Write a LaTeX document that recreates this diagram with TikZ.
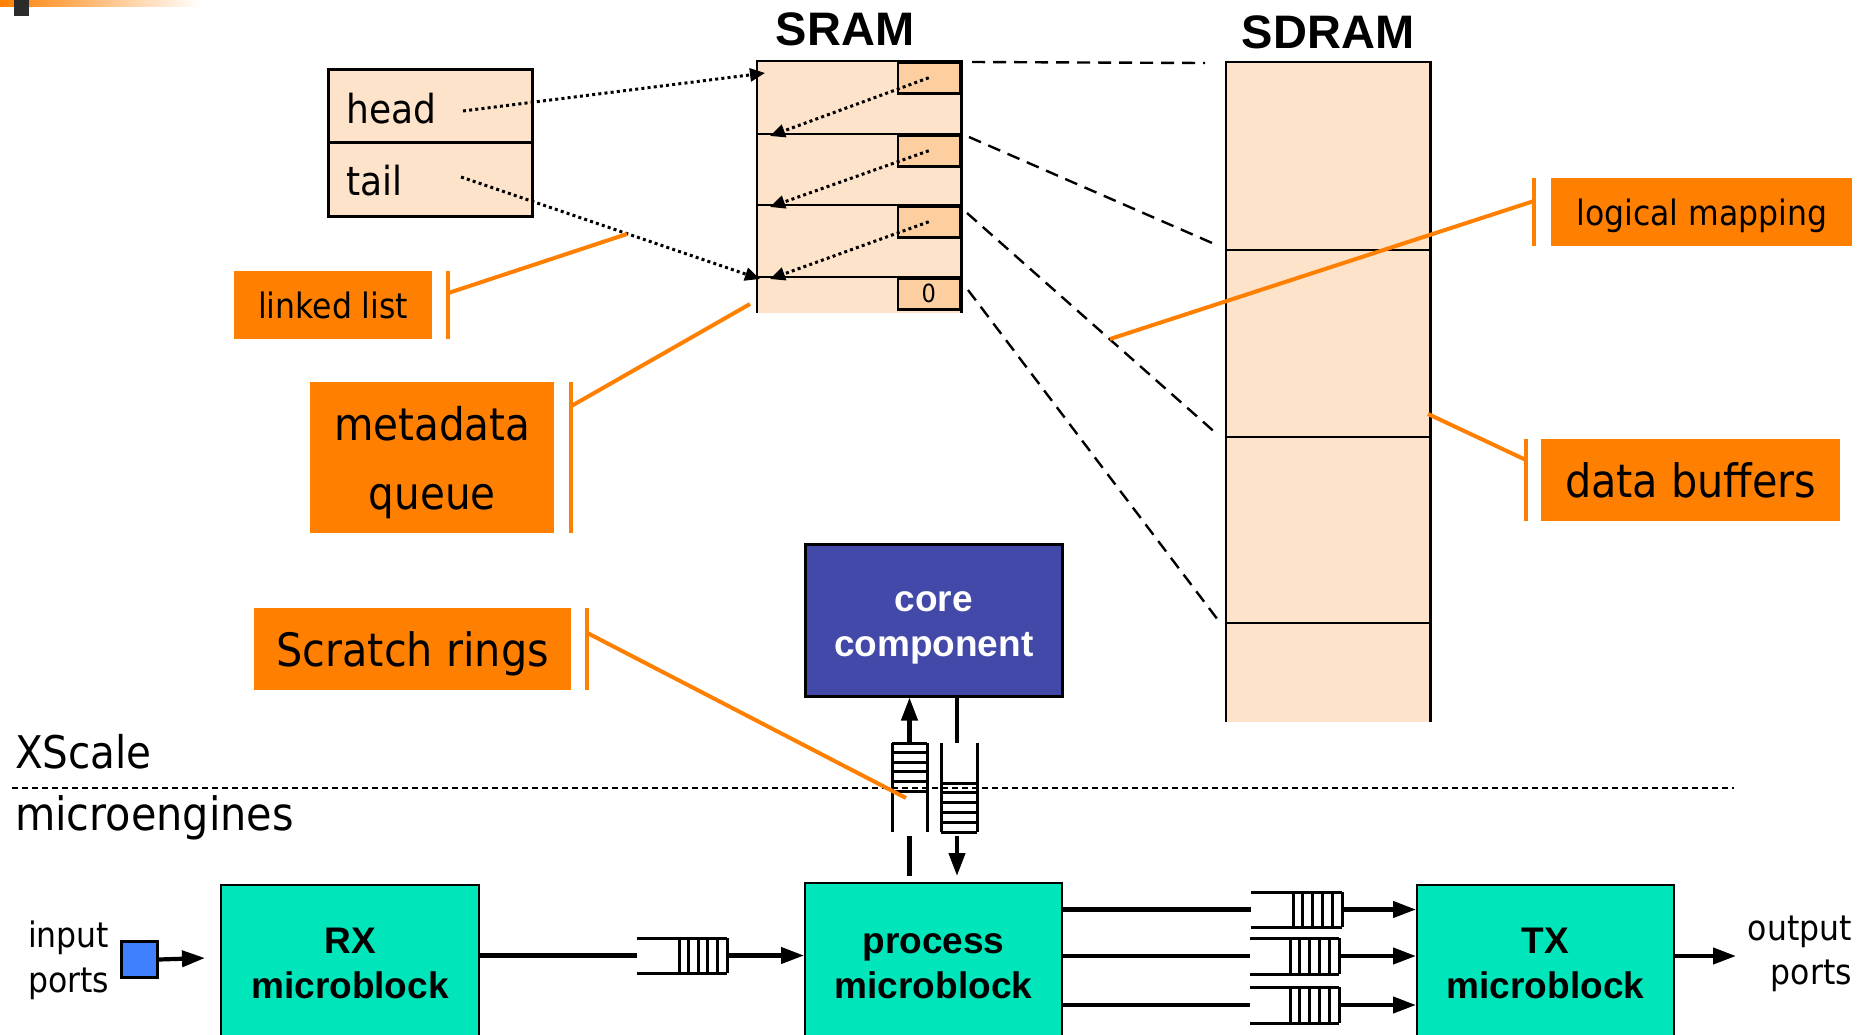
\documentclass[tikz,border=0pt]{standalone}
\usepackage{fontspec}
\setmainfont{DejaVu Sans Condensed}
\newfontfamily\boldsans{Liberation Sans}
\usetikzlibrary{arrows.meta,calc}

\definecolor{peach}{HTML}{FDE3C9}
\definecolor{peachdark}{HTML}{FDCFA0}
\definecolor{callout}{HTML}{FF7F00}
\definecolor{coreblue}{HTML}{4349A9}
\definecolor{mgreen}{HTML}{00E5B9}
\definecolor{portblue}{HTML}{4080FF}

\newcommand\fsz[2]{\fontsize{#1}{#2}\selectfont}

% horizontal ring buffer: open x, first slot x, closed end x, top y, bottom y
\newcommand\HQueue[5]{%
  \draw[ring] (#1,#4) -- (#3,#4) (#1,#5) -- (#3,#5);
  \foreach \k in {0,...,5} \draw[ring] ({#2+\k*(#3-#2)/5},#4) -- ({#2+\k*(#3-#2)/5},#5);
}
% vertical ring buffer: left x, right x, side top, side bottom, first slot y, last slot y
\newcommand\VQueue[6]{%
  \draw[ring] (#1,#3) -- (#1,#4) (#2,#3) -- (#2,#4);
  \foreach \k in {0,...,5} \draw[ring] (#1,{#5+\k*(#6-#5)/5}) -- (#2,{#5+\k*(#6-#5)/5});
}

\tikzset{
  memfill/.style={fill=peach, inner sep=0pt, anchor=north west},
  memline/.style={line width=2.5pt},
  ptrbox/.style={draw, line width=2.5pt, fill=peachdark, inner sep=0pt, anchor=north east,
    minimum width=62pt, minimum height=31pt},
  ptr/.style={line width=3pt, dash pattern=on 3pt off 3.2pt, -{Triangle[length=15pt,width=13pt]}},
  mapline/.style={line width=2.4pt, dash pattern=on 13pt off 8pt},
  tag/.style={fill=callout, inner sep=0pt, anchor=north west, text depth=0pt, align=center},
  tagbar/.style={draw=callout, line width=4pt},
  blk/.style={draw, line width=2pt, fill=mgreen, inner sep=0pt, anchor=north west, align=center,
    font=\boldsans\bfseries\fsz{37}{45}, text height=71.5pt, text depth=0pt},
  conn/.style={line width=4.2pt},
  arr/.style={conn, -{Triangle[length=23pt,width=16pt]}},
  ring/.style={line width=3pt},
  divider/.style={line width=1.8pt, dash pattern=on 6pt off 4pt},
  plain/.style={inner sep=0pt},
}

\begin{document}
\begin{tikzpicture}[x=1pt,y=-1pt]
\clip (0,0) rectangle (1872,1034);

% slide accent in the corner
\shade[left color=callout, right color=white] (0,0) rectangle (200,6);
\fill[black!83] (14,0) rectangle (29,16);

% head / tail registers
\node[memfill, draw, line width=2.5pt, minimum width=204pt, minimum height=73pt] (head) at (327,68) {};
\node[memfill, draw, line width=2.5pt, minimum width=204pt, minimum height=74pt] (tail) at (327,141) {};
\node[plain, anchor=base west, font=\fsz{40}{48}] (headtxt) at (346,123) {head};
\node[plain, anchor=base west, font=\fsz{40}{48}] (tailtxt) at (346,195) {tail};

% SRAM queue descriptors
\node[memfill, minimum width=204pt, minimum height=252pt] (sram) at (757,61) {};
\draw[memline] (sram.south west) -- (sram.north west) -- (sram.north east) -- (sram.south east);
\foreach \y in {134,205,277} \draw[memline] (757,\y) -- (961,\y);
\node[ptrbox] (p1) at (961,61) {};
\node[ptrbox] (p2) at (961,134) {};
\node[ptrbox] (p3) at (961,205) {};
\node[ptrbox, font=\fsz{25}{30}] (p4) at (961,277) {0};
\node[plain, anchor=base, font=\boldsans\bfseries\fsz{47}{56}] (sramlbl) at (845,45) {SRAM};

% SDRAM buffers
\node[memfill, minimum width=204pt, minimum height=660pt] (sdram) at (1226,62) {};
\draw[memline] (sdram.south west) -- (sdram.north west) -- (sdram.north east) -- (sdram.south east);
\foreach \y in {250,437,623} \draw[memline] (1226,\y) -- (1430,\y);
\node[plain, anchor=base, font=\boldsans\bfseries\fsz{47}{56}] (sdramlbl) at (1328,48) {SDRAM};

% linked-list pointers
\coordinate (hp) at (463,111);
\coordinate (tp) at (461,177);
\coordinate (e1) at (765,73);
\coordinate (e2) at (770,136);
\coordinate (e3) at (770,207);
\coordinate (e4) at (770,279);
\coordinate (e4t) at (760,279);
\draw[ptr] (hp) -- (e1);
\draw[ptr] (tp) -- (e4t);
\draw[ptr] (p1.center) -- (e2);
\draw[ptr] (p2.center) -- (e3);
\draw[ptr] (p3.center) -- (e4);

% mapping of descriptors onto buffers
\coordinate (m1a) at (972,62);   \coordinate (m1b) at (1205,63);
\coordinate (m2a) at (969,137);  \coordinate (m2b) at (1219,246);
\coordinate (m3a) at (967,213);  \coordinate (m3b) at (1218,435);
\coordinate (m4a) at (968,290);  \coordinate (m4b) at (1218,620);
\draw[mapline] (m1a) -- (m1b);
\draw[mapline] (m2a) -- (m2b);
\draw[mapline] (m3a) -- (m3b);
\draw[mapline] (m4a) -- (m4b);

% core component and the XScale / microengine boundary
\node[draw, line width=2.5pt, fill=coreblue, text=white, inner sep=0pt, anchor=north west,
  minimum width=257pt, minimum height=152pt, align=center,
  font=\boldsans\bfseries\fsz{37}{45}, text height=71.5pt, text depth=0pt] (core) at (804,543) {core\\component};

\coordinate (dl) at (12,788);
\coordinate (dr) at (1734,788);
\draw[divider] (dl) -- (dr);
\node[plain, anchor=base west, font=\fsz{45}{54}] (xscale) at (15,768) {XScale};
\node[plain, anchor=base west, font=\fsz{46}{54}] (micro) at (15,830) {microengines};

% microblocks
\node[blk, minimum width=258pt, minimum height=156pt] (rx) at (220,884) {RX\\microblock};
\node[blk, minimum width=257pt, minimum height=160pt] (proc) at (804,882) {process\\microblock};
\node[blk, minimum width=257pt, minimum height=156pt] (tx) at (1416,884) {TX\\microblock};

% ports
\node[draw, line width=3pt, fill=portblue, minimum size=36pt, inner sep=0pt, anchor=north west] (port) at (120,940) {};
\node[plain, anchor=west, align=left, font=\fsz{35}{45}, text height=72pt, text depth=0pt] (inlbl) at (28,956) {input\\ports};
\node[plain, anchor=east, align=right, font=\fsz{35}{44}, text height=71pt, text depth=0pt] (outlbl) at (1852,949) {output\\ports};
\coordinate (rxin) at (205,958);
\draw[arr] (port.east) -- (rxin);
\coordinate (outp) at (1736,956);
\draw[arr] (tx.east |- outp) -- (outp);

% scratch rings between microblocks
\HQueue{637}{679}{727}{938}{973}
\coordinate (q0in) at (637,955.5);  \coordinate (q0out) at (727,955.5);
\draw[conn] (rx.east |- q0in) -- (q0in);
\draw[arr] (q0out) -- (q0out -| proc.west);

\HQueue{1251}{1293}{1342}{892}{927}
\coordinate (qain) at (1251,909.5);  \coordinate (qaout) at (1342,909.5);
\draw[conn] (proc.east |- qain) -- (qain);
\draw[arr] (qaout) -- (qaout -| tx.west);

\HQueue{1250}{1290}{1339}{938}{974}
\coordinate (qbin) at (1250,956);  \coordinate (qbout) at (1339,956);
\draw[conn] (proc.east |- qbin) -- (qbin);
\draw[arr] (qbout) -- (qbout -| tx.west);

\HQueue{1250}{1290}{1339}{987}{1023}
\coordinate (qcin) at (1250,1005);  \coordinate (qcout) at (1339,1005);
\draw[conn] (proc.east |- qcin) -- (qcin);
\draw[arr] (qcout) -- (qcout -| tx.west);

% scratch rings to and from the core component
\VQueue{892}{927}{743}{832}{743}{791}
\VQueue{941}{977}{743}{832}{783}{832}
\coordinate (rlTop) at (909.5,743);  \coordinate (rlBot) at (909.5,836);
\coordinate (rrTop) at (957,743);    \coordinate (rrBot) at (957,836);
\draw[arr] (rlTop) -- (rlTop |- core.south);
\draw[conn] (rlBot) -- ($(rlBot |- proc.north)+(0,-6)$);
\draw[conn] (rrTop |- core.south) -- (rrTop);
\draw[arr] (rrBot) -- ($(rrBot |- proc.north)+(0,-6)$);

% callouts
\node[tag, minimum width=301pt, minimum height=68pt, font=\fsz{35}{42}] (lm) at (1551,178) {logical mapping};
\coordinate (lmt) at (1110,339);
\draw[tagbar] ($(lm.north west)+(-17,0)$) -- ($(lm.south west)+(-17,0)$);
\draw[tagbar] ($(lm.north west)+(-17,23)$) -- (lmt);

\node[tag, minimum width=299pt, minimum height=82pt, font=\fsz{46}{55}] (db) at (1541,439) {data buffers};
\coordinate (dbt) at (1428,414);
\draw[tagbar] ($(db.north west)+(-15,0)$) -- ($(db.south west)+(-15,0)$);
\draw[tagbar] ($(db.north west)+(-15,21)$) -- (dbt);

\node[tag, minimum width=198pt, minimum height=68pt, font=\fsz{35}{42}] (ll) at (234,271) {linked list};
\coordinate (llt) at (627,234);
\draw[tagbar] ($(ll.north east)+(16,0)$) -- ($(ll.south east)+(16,0)$);
\draw[tagbar] ($(ll.north east)+(16,22)$) -- (llt);

\node[tag, minimum width=244pt, minimum height=151pt, font=\fsz{45}{69}] (mq) at (310,382) {metadata\\queue};
\coordinate (mqt) at (750,304);
\draw[tagbar] ($(mq.north east)+(17,0)$) -- ($(mq.south east)+(17,0)$);
\draw[tagbar] ($(mq.north east)+(17,24)$) -- (mqt);

\node[tag, minimum width=317pt, minimum height=82pt, font=\fsz{46}{55}] (sr) at (254,608) {Scratch rings};
\coordinate (srt) at (906,798);
\draw[tagbar] ($(sr.north east)+(16,0)$) -- ($(sr.south east)+(16,0)$);
\draw[tagbar] ($(sr.north east)+(16,25)$) -- (srt);
\end{tikzpicture}
\end{document}
